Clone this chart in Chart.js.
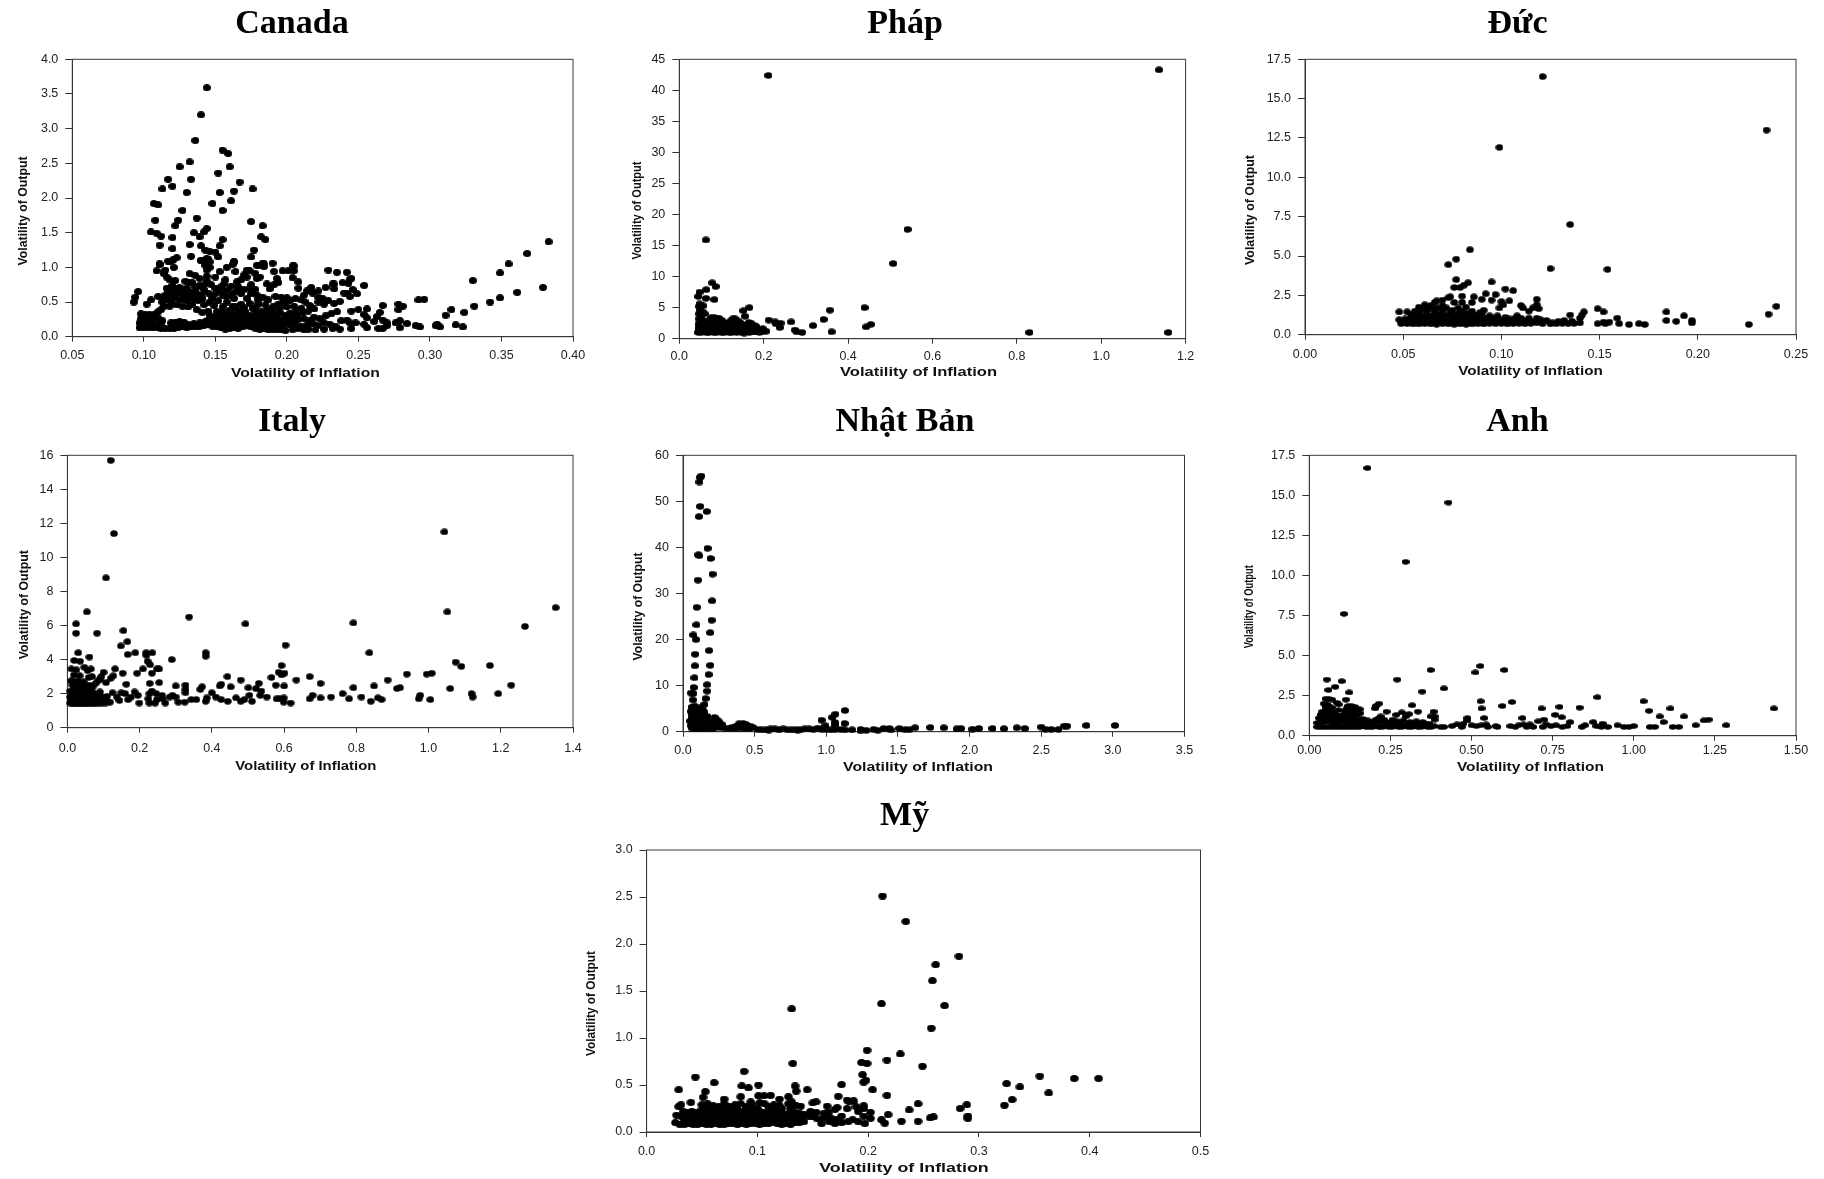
<!DOCTYPE html>
<html><head><meta charset="utf-8">
<script src="https://cdn.jsdelivr.net/npm/chart.js@4"></script>
<style>html,body{margin:0;padding:0;background:#fff;width:1824px;height:1179px;overflow:hidden}canvas{position:absolute}</style>
</head><body>
<script>
const outputLabel = "Volatility of Output";
const inflationLabel = "Volatility of Inflation";
const canadaXTicks=[0.05,0.10,0.15,0.20,0.25,0.30,0.35,0.40];
const canadaYTicks=[0,0.5,1,1.5,2,2.5,3,3.5,4];
const phapXTicks=[0,0.2,0.4,0.6,0.8,1,1.2];
const phapYTicks=[0,5,10,15,20,25,30,35,40,45];
const ducXTicks=[0,0.05,0.10,0.15,0.20,0.25];
const ducYTicks=[0,2.5,5,7.5,10,12.5,15,17.5];
const italyXTicks=[0,0.2,0.4,0.6,0.8,1,1.2,1.4];
const italyYTicks=[0,2,4,6,8,10,12,14,16];
const nhatXTicks=[0,0.5,1,1.5,2,2.5,3,3.5];
const nhatYTicks=[0,10,20,30,40,50,60];
const anhXTicks=[0,0.25,0.5,0.75,1,1.25,1.5];
const anhYTicks=[0,2.5,5,7.5,10,12.5,15,17.5];
const myXTicks=[0,0.1,0.2,0.3,0.4,0.5];
const myYTicks=[0,0.5,1,1.5,2,2.5,3];

const canadaPoints=[[.144,3.59],[.14,3.2],[.136,2.83],[.155,2.69],[.159,2.64],[.132,2.52],[.125,2.45],[.16,2.45],[.152,2.36],[.117,2.27],[.133,2.27],[.167,2.23],[.113,2.13],[.12,2.17],[.176,2.13],[.13,2.08],[.153,2.08],[.163,2.1],[.107,1.92],[.11,1.9],[.148,1.92],[.161,1.96],[.127,1.82],[.155,1.82],[.108,1.68],[.124,1.68],[.137,1.71],[.175,1.66],[.105,1.51],[.109,1.49],[.112,1.45],[.122,1.6],[.12,1.43],[.135,1.5],[.144,1.56],[.142,1.51],[.139,1.44],[.183,1.6],[.182,1.44],[.185,1.4],[.111,1.32],[.12,1.27],[.132,1.33],[.14,1.31],[.155,1.4],[.153,1.31],[.177,1.25],[.143,1.25],[.146,1.23],[.15,1.22],[.133,1.16],[.175,1.15],[.152,1.15],[.123,1.14],[.12,1.1],[.117,1.09],[.14,1.1],[.145,1.12],[.111,1.04],[.144,1.06],[.163,1.08],[.162,1.04],[.183,1.06],[.179,1.03],[.184,1.01],[.19,1.06],[.204,1.02],
[.096,.65],[.094,.57],[.093,.5],[.102,.47],[.105,.53],
[.109,.95],[.111,1.05],[.115,.96],[.118,1.08],[.121,1.12],[.121,1.0],[.114,.91],[.116,.86],[.118,.82],[.122,.81],[.132,.91],[.136,.88],[.129,.8],[.132,.78],[.139,.84],[.144,.87],[.15,.86],[.14,1.1],[.144,1.13],[.146,1.08],[.143,1.03],[.146,1.0],[.144,.96],[.153,.94],[.158,1.0],[.163,1.08],[.164,.94],[.157,.82],[.165,.79],[.172,.96],[.174,.95],[.17,.89],[.178,.91],[.18,1.03],[.184,1.05],[.191,.94],[.197,.95],[.201,.95],[.205,1.02],[.205,.95],[.204,.85],[.208,.79],[.193,.84],[.194,.78],[.191,.75],[.186,.76],[.188,.69],[.175,.75],[.179,.84],[.181,.86],[.172,.86],[.168,.82],[.208,.7],[.217,.71],[.214,.66],[.217,.65],[.222,.66],[.227,.71],[.233,.69],[.229,.96],[.235,.93],[.242,.93],[.244,.83],[.239,.78],[.233,.76],[.243,.77],[.245,.84],[.246,.68],[.242,.63],[.24,.63],[.244,.58],[.249,.62],[.254,.74],[.232,.76],
[.245,.37],[.25,.39],[.256,.4],[.254,.32],[.256,.27],[.267,.45],[.265,.35],[.263,.29],[.261,.22],[.254,.18],[.248,.2],[.256,.13],[.245,.12],[.242,.24],[.244,.2],[.264,.12],[.267,.12],[.267,.24],[.27,.2],[.27,.16],[.276,.2],[.279,.23],[.279,.13],[.284,.19],[.278,.39],[.278,.47],[.281,.44],[.292,.53],[.296,.54],[.29,.16],[.293,.14],[.304,.16],[.305,.18],[.307,.14],[.311,.31],[.315,.39],[.318,.17],[.323,.14],[.324,.35],[.331,.44],[.33,.81],[.342,.5],[.349,.92],[.349,.56],[.355,1.05],[.361,.64],[.368,1.2],[.379,.71],[.383,1.37],
[.097,.13],[.1,.13],[.103,.13],[.106,.13],[.109,.13],[.112,.12],[.097,.2],[.1,.19],[.103,.18],[.106,.18],[.109,.17],[.112,.18],[.098,.26],[.101,.26],[.104,.26],[.107,.26],[.11,.27],[.098,.33],[.101,.32],[.104,.32],[.107,.32],[.113,.23],[.11,.36],[.112,.39],[.114,.44],[.113,.5],[.116,.53],[.118,.58],[.115,.6],[.113,.57],[.11,.58],[.12,.62],[.117,.66],[.122,.69],[.125,.71],[.128,.66],[.13,.7],[.126,.62],[.119,.5],[.123,.46],[.127,.44],[.131,.43],[.134,.47],[.13,.52],[.135,.55],[.133,.64],[.137,.62],[.136,.72],[.139,.74],[.142,.68],[.14,.6],[.134,.78],[.144,.8],[.147,.75],[.15,.7],[.153,.66],[.145,.63],[.148,.56],[.141,.55],[.137,.39],[.141,.35],[.145,.37],[.149,.45],[.152,.52],[.155,.6],[.158,.67],[.161,.73],[.156,.76],[.165,.66],[.168,.62],[.163,.55],[.158,.5],[.155,.43],[.151,.36],[.156,.32],[.16,.38],[.164,.43],[.168,.47],[.172,.55],[.175,.62],[.179,.6],[.183,.57],[.187,.53],[.18,.47],[.176,.41],[.171,.36],[.166,.31],[.161,.27],[.155,.25],[.15,.28],[.145,.24],
[.115,.12],[.118,.12],[.121,.12],[.124,.13],[.127,.14],[.13,.13],[.133,.14],[.136,.14],[.139,.15],[.142,.16],[.145,.17],[.148,.15],[.151,.14],[.154,.13],[.157,.11],[.16,.12],[.163,.13],[.166,.12],[.169,.14],[.172,.16],[.175,.14],[.178,.12],[.181,.11],[.184,.12],[.187,.1],[.19,.1],[.193,.11],[.196,.1],[.199,.09],[.204,.1],[.208,.12],[.212,.1],[.215,.11],[.22,.1],[.226,.11],[.232,.12],[.237,.11],[.119,.2],[.122,.21],[.125,.22],[.128,.21],[.131,.18],[.135,.19],[.139,.2],[.143,.22],[.147,.23],[.152,.2],[.156,.19],[.16,.2],[.164,.21],[.168,.23],[.172,.22],[.176,.2],[.18,.18],[.184,.18],[.188,.16],[.192,.15],[.197,.16],[.202,.17],[.206,.18],[.21,.15],[.214,.17],[.218,.19],[.222,.16],[.226,.2],[.23,.18],[.234,.15],[.238,.23],
[.158,.28],[.162,.32],[.166,.26],[.17,.28],[.174,.3],[.178,.33],[.182,.36],[.186,.39],[.19,.43],[.194,.47],[.198,.5],[.202,.52],[.206,.55],[.21,.53],[.213,.5],[.216,.45],[.219,.4],[.222,.5],[.225,.55],[.229,.52],[.233,.48],[.237,.51],[.177,.25],[.182,.26],[.187,.28],[.191,.31],[.195,.35],[.199,.3],[.203,.27],[.207,.3],[.211,.35],[.215,.37],[.219,.28],[.223,.26],[.227,.3],[.231,.33],[.235,.36],[.191,.22],[.195,.23],[.2,.22],[.204,.24],[.208,.25],[.212,.26],[.216,.23],[.19,.38],[.195,.42],[.2,.43],[.205,.44],[.21,.41],[.185,.46],[.18,.53],[.2,.56],[.196,.57],[.192,.58],[.212,.6],[.218,.63],[.222,.57],[.226,.47],
[.116,.7],[.12,.74],[.124,.64],[.128,.58],[.132,.6],[.136,.66],[.14,.72],[.143,.76],[.138,.52],[.142,.46],[.146,.5],[.15,.62],[.154,.72],[.158,.58],[.162,.62],[.166,.72],[.17,.68],[.174,.7],[.178,.68],[.146,.31],[.15,.2],[.154,.3],[.158,.35],[.162,.44],[.166,.38],[.17,.42],[.174,.48],[.178,.4],[.182,.3],[.186,.34],[.19,.27],[.194,.18],[.198,.24],[.202,.34],[.206,.36],[.157,.16],[.161,.16],[.165,.16],[.169,.18],[.173,.19],[.177,.16],[.181,.15],[.185,.22],[.189,.2],[.193,.28],[.155,.35],[.16,.33],[.174,.25],[.168,.34],[.179,.22],[.118,.44],[.122,.56],[.126,.53],[.13,.6],[.134,.56]];

const phapPoints=[[.211,42.4],[1.137,43.3],[.063,15.9],[.541,17.6],[.507,12.1],[.83,1.0],[1.159,1.0],[.078,9.0],[.086,8.4],[.064,7.9],[.048,7.5],[.045,6.8],[.063,6.5],[.083,6.3],[.048,5.6],[.047,5.2],[.057,5.3],[.166,5.0],[.152,4.5],[.156,3.6],[.357,4.6],[.439,5.0],[.212,3.0],[.227,2.7],[.24,2.5],[.229,2.4],[.238,1.8],[.265,2.7],[.342,3.1],[.317,2.1],[.274,1.4],[.278,1.1],[.291,1.0],[.361,1.1],[.443,1.9],[.454,2.3],
[.05,4.6],[.056,4.3],[.06,4.0],[.052,3.6],[.047,3.2],[.055,3.0],[.062,2.7],[.046,2.4],[.05,2.0],[.046,1.5],[.045,1.0],[.052,1.0],[.058,1.1],[.064,1.0],[.07,1.0],[.076,1.1],[.082,1.0],[.088,1.0],[.094,1.1],[.1,1.0],[.106,1.0],[.112,1.1],[.118,1.0],[.124,1.0],[.13,1.1],[.136,1.0],[.142,1.1],[.148,1.0],[.154,.9],[.16,1.1],[.166,1.0],[.172,1.1],[.178,1.1],[.184,1.1],[.19,1.0],[.196,1.1],[.206,1.2],
[.054,1.8],[.06,1.7],[.066,1.9],[.072,1.7],[.078,1.8],[.084,1.9],[.09,1.7],[.096,1.8],[.102,1.9],[.108,1.7],[.114,1.6],[.12,1.8],[.126,1.7],[.132,1.8],[.138,1.6],[.144,1.7],[.15,1.5],[.156,1.6],[.162,1.7],[.168,1.6],[.174,1.7],[.18,1.5],[.186,1.4],[.192,1.5],[.198,1.6],
[.066,2.7],[.07,2.9],[.076,2.8],[.082,3.1],[.088,3.3],[.094,3.3],[.1,3.0],[.105,2.7],[.11,2.5],[.116,2.4],[.122,2.9],[.127,3.2],[.132,3.2],[.138,2.9],[.144,2.6],[.15,2.3],[.157,2.1],[.165,2.6],[.17,2.5],[.176,2.2],[.182,2.0],[.076,3.4],[.083,3.4],[.09,2.5],[.098,2.4],[.128,2.5],[.135,2.3],[.06,2.2],[.067,2.2],[.075,2.2],[.082,2.4],[.104,2.2],[.112,2.1],[.12,2.2],[.142,2.1],[.15,1.9],[.047,4.0],[.052,2.6],[.046,1.9],
[.05,1.4],[.056,1.4],[.063,1.4],[.07,1.35],[.077,1.4],[.084,1.45],[.091,1.35],[.098,1.4],[.105,1.35],[.112,1.4],[.119,1.35],[.126,1.4],[.133,1.35],[.14,1.3],[.147,1.35],[.154,1.3],[.161,1.35],[.168,1.3],[.175,1.35],[.053,2.4],[.06,2.5],[.07,2.5],[.08,2.7],[.09,2.9],[.096,2.7],[.125,2.2],[.132,2.6],[.139,2.5],[.16,1.95],[.17,2.0]];

const ducPoints=[[.121,16.4],[.235,13.0],[.099,11.9],[.135,7.0],[.084,5.4],[.077,4.8],[.073,4.45],[.125,4.2],[.154,4.15],[.077,3.5],[.076,3.0],[.079,3.0],[.081,3.15],[.083,3.3],[.095,3.35],[.102,2.9],[.106,2.8],[.092,2.6],[.097,2.55],[.08,2.45],[.086,2.4],[.074,2.4],[.073,2.35],[.118,2.25],[.104,2.15],[.1,2.1],[.095,2.2],[.09,2.25],[.07,2.2],[.067,2.15],[.066,2.05],[.076,2.05],[.08,2.05],[.085,2.05],[.101,1.9],[.11,1.85],[.111,1.7],[.118,1.9],[.119,1.65],[.116,1.7],[.114,1.5],[.099,1.7],[.091,1.55],[.149,1.65],[.152,1.45],[.142,1.45],[.141,1.25],[.14,1.05],[.135,1.25],[.159,1.05],[.184,1.45],[.193,1.2],[.184,.9],[.189,.85],[.197,.9],[.197,.75],[.226,.65],[.236,1.3],[.24,1.8],[.165,.65],[.17,.7],[.173,.65],[.16,.7],[.155,.8],[.152,.8],[.149,.7],[.153,.7],
[.048,1.45],[.052,1.45],[.056,1.5],[.058,1.75],[.061,1.9],[.064,1.85],[.067,1.7],[.07,1.85],[.072,1.7],[.075,1.55],[.078,1.7],[.082,1.75],[.058,1.35],[.062,1.5],[.066,1.4],[.07,1.45],[.074,1.3],[.078,1.35],[.083,1.35],[.087,1.25],[.09,1.3],[.094,1.2],[.098,1.2],[.102,1.1],[.108,1.2],
[.048,.95],[.051,1.0],[.054,1.1],[.057,1.05],[.06,1.15],[.063,1.1],[.066,1.05],[.069,1.1],[.072,1.0],[.075,1.05],[.078,1.0],[.081,1.1],[.084,1.0],[.087,.95],[.09,.95],[.093,.95],[.096,.9],[.099,.95],[.102,.95],[.105,.9],[.108,.85],[.111,.9],[.114,.9],[.117,.85],[.12,.95],[.123,.9],[.126,.75],[.129,.85],[.132,.9],[.136,.85],
[.049,.7],[.052,.7],[.055,.68],[.058,.68],[.061,.7],[.064,.68],[.067,.66],[.07,.7],[.073,.68],[.076,.66],[.079,.68],[.082,.66],[.085,.68],[.088,.7],[.091,.68],[.094,.72],[.097,.7],[.1,.72],[.103,.68],[.106,.7],[.109,.72],[.112,.7],[.115,.72],[.118,.75],[.121,.7],[.125,.68],[.128,.7],[.131,.72],[.134,.7],[.137,.72],[.14,.75],[.05,.82],[.06,.82],[.07,.85],[.08,.85],[.09,.8],[.1,.8],[.11,.78],
[.053,.88],[.056,.88],[.059,.95],[.062,.92],[.065,.88],[.068,.9],[.071,.85],[.074,.9],[.077,.88],[.08,.95],[.083,.85],[.086,.85],[.089,.88],[.092,.84],[.095,.82],[.098,.85],[.056,1.25],[.059,1.2],[.062,1.25],[.065,1.22],[.068,1.25],[.071,1.2],[.074,1.15],[.077,1.2],[.08,1.25],[.083,1.15],[.086,1.1],[.089,1.1],[.092,1.05],[.095,1.05],[.098,1.05],[.054,1.3],[.06,1.6],[.063,1.65],[.066,1.55],[.07,1.6],[.074,1.45],[.08,1.5],[.085,1.5],[.089,1.4],[.104,1.0],[.107,1.05],[.11,1.05],[.114,1.05],[.118,1.05]];

const italyPoints=[[.12,15.7],[.129,11.4],[.107,8.8],[1.044,11.5],[1.052,6.8],[1.352,7.05],[1.267,5.95],[.792,6.15],[.493,6.1],[.337,6.5],[.054,6.8],[.024,6.1],[.024,5.55],[.082,5.55],[.155,5.7],[.166,5.05],[.148,4.8],[.604,4.85],[.03,4.4],[.061,4.15],[.167,4.3],[.188,4.4],[.218,4.4],[.235,4.4],[.219,4.25],[.383,4.4],[.383,4.2],[.836,4.4],[.289,4.0],[.222,3.9],[.229,3.7],[.019,3.95],[.035,3.9],[.593,3.65],[1.075,3.85],[1.091,3.6],[1.17,3.65],[.011,3.45],[.025,3.4],[.047,3.55],[.065,3.45],[.056,3.35],[.132,3.45],[.153,3.2],[.209,3.45],[.248,3.45],[.254,3.45],[.234,3.2],[.193,3.2],[.1,3.25],[.094,3.0],[.091,2.85],[.127,3.05],[.12,2.9],[.068,3.0],[.059,2.95],[.018,3.1],[.034,3.05],[.01,2.75],[.084,2.75],[.078,2.6],[.107,2.65],[.163,2.55],[.228,2.6],[.254,2.65],
[.585,3.25],[.601,3.2],[.593,3.1],[.565,2.95],[.443,3.0],[.48,2.8],[.634,2.8],[.671,3.0],[.701,2.6],[.887,2.8],[.94,3.15],[.995,3.15],[1.009,3.2],[.53,2.6],[.577,2.5],[.6,2.45],[.426,2.55],[.422,2.45],[.452,2.4],[.3,2.45],[.327,2.5],[.501,2.35],[.522,2.3],[.537,2.15],[.327,2.25],[.327,2.05],[.373,2.4],[.368,2.25],[.4,2.05],[.792,2.35],[.849,2.45],[.913,2.3],[.921,2.35],[1.06,2.3],[1.229,2.5],[1.119,2.0],[1.122,1.8],[1.193,2.0],[.762,2.0],[.73,1.8],[.679,1.9],[.701,1.75],[.671,1.7],[.78,1.7],[.814,1.8],[.84,1.55],[.86,1.75],[.87,1.65],[.977,1.9],[.973,1.7],[1.005,1.65],
[.504,1.9],[.534,1.9],[.552,1.8],[.467,1.75],[.49,1.65],[.48,1.55],[.511,1.55],[.579,1.7],[.599,1.75],[.587,1.7],[.599,1.5],[.618,1.45],[.444,1.55],[.426,1.65],[.411,1.8],[.386,1.75],[.383,1.55],[.357,1.65],[.343,1.65],[.325,1.5],[.307,1.5],[.3,1.8],[.291,1.9],[.283,1.8],[.271,1.45],[.262,1.9],[.264,1.7],[.243,1.45],[.248,1.65],[.227,1.45],[.224,1.7],[.227,2.0],[.234,2.15],[.246,2.0],[.199,1.45],[.195,1.9],[.186,2.1],[.176,1.8],[.168,1.65],[.149,2.05],[.16,2.0],[.137,1.8],[.144,1.6],
[.008,1.45],[.016,1.4],[.024,1.4],[.032,1.4],[.04,1.4],[.048,1.4],[.056,1.4],[.064,1.45],[.072,1.4],[.08,1.45],[.088,1.45],[.096,1.45],[.106,1.45],[.118,1.5],[.008,1.8],[.016,1.8],[.024,1.75],[.032,1.85],[.04,1.75],[.048,1.8],[.056,1.75],[.064,1.8],[.072,1.75],[.08,1.85],[.09,1.9],[.1,1.75],[.11,1.85],[.125,2.05],[.09,2.1],[.008,2.15],[.016,2.2],[.024,2.15],[.032,2.2],[.04,2.1],[.048,2.15],[.056,2.2],[.064,2.15],[.072,2.05],[.014,2.5],[.024,2.55],[.034,2.45],[.044,2.4],[.054,2.45],[.062,2.5],[.07,2.4],
[.01,1.6],[.02,1.6],[.03,1.6],[.04,1.6],[.05,1.6],[.06,1.6],[.07,1.6],[.08,1.65],[.012,2.0],[.022,2.0],[.032,2.0],[.042,1.95],[.052,2.0],[.062,1.95],[.02,2.35],[.03,2.35],[.04,2.3],[.05,2.3],[.06,2.35],[.016,2.75],[.03,2.75],[.045,2.7],[.098,1.6],[.11,1.55]];

const nhatPoints=[[.128,55.5],[.118,55.2],[.115,54.2],[.12,48.9],[.166,47.8],[.112,46.7],[.171,39.8],[.107,38.4],[.113,38.2],[.192,37.6],[.206,34.2],[.104,32.9],[.203,28.4],[.096,27],[.2,24.2],[.094,23.2],[.072,21],[.091,20],[.19,21.5],[.182,17.6],[.085,16.8],[.083,14.3],[.19,14.4],[.179,12.4],[.08,11.7],[.168,10.2],[.075,9.6],[.168,8.8],[.056,8.4],[.072,8.3],[.158,7.2],[.069,6.9],[.15,5.9],
[.967,2.5],[1.042,3.1],[1.063,3.8],[1.13,4.6],[1.128,1.8],[1.06,2.0],[1.063,1.4],[.994,1.3],[1.24,.5],[1.33,.5],[1.62,.85],[1.726,.9],[1.82,.85],[1.91,.6],[1.94,.7],[2.02,.55],[2.065,.7],[2.16,.7],[2.24,.65],[2.33,.85],[2.385,.7],[2.5,1.0],[2.53,.5],[2.57,.5],[2.62,.5],[2.66,1.2],[2.68,1.2],[2.815,1.35],[3.015,1.35],[1.51,.7],[1.55,.45],[1.58,.45],[1.4,.7],[1.44,.7],[1.45,.4],[1.18,.4],[1.1,.5],[1.28,.3],[1.36,.3],[1.24,.2],
[.06,5.3],[.07,5.0],[.08,5.6],[.09,4.6],[.1,4.8],[.11,5.2],[.12,4.9],[.13,5.0],[.14,4.6],[.15,4.2],[.055,4.4],[.065,3.9],[.06,3.2],[.05,2.3],[.055,1.3],[.06,.8],[.09,3.4],[.11,3.6],[.13,3.4],[.15,3.1],[.17,3.3],[.08,2.4],[.1,2.5],[.12,2.3],[.14,2.2],[.16,2.1],[.18,2.3],[.07,1.2],[.09,1.3],[.11,1.4],[.13,1.2],[.15,1.3],[.17,1.2],[.19,1.5],[.21,1.7],[.22,3.1],[.235,2.6],[.25,2.2],[.27,1.6],[.24,1.2],[.08,.7],[.1,.6],[.12,.7],[.14,.6],[.16,.7],[.18,.7],[.2,.7],[.22,.8],[.26,.9],[.29,.8],[.32,.7],[.34,.9],[.37,1.2],[.39,1.7],[.42,1.8],[.44,1.6],[.47,1.2],[.49,.9],[.4,.8],[.43,.7],[.36,.6],[.46,.6],[.52,.5],[.55,.4],[.58,.4],[.61,.6],[.64,.6],[.67,.4],[.7,.6],[.73,.4],[.76,.4],[.79,.4],[.82,.4],[.85,.6],[.88,.6],[.91,.5],[.94,.8],[.97,.5],[1.0,.5],[1.03,.4],[1.06,.5],[1.13,.4],[.6,.35],[.8,.35]];

const anhPoints=[[.179,16.7],[.429,14.55],[.297,10.85],[.107,7.6],[.527,4.35],[.512,3.95],[.374,4.1],[.601,4.1],[.054,3.5],[.1,3.4],[.271,3.5],[.059,2.85],[.08,3.05],[.123,2.7],[.415,2.95],[.348,2.75],[.888,2.4],[.528,2.15],[.625,2.1],[.595,1.85],[.531,1.7],[1.03,2.15],[1.047,1.55],[1.113,1.7],[.716,1.7],[.771,1.8],[.833,1.75],[1.432,1.7],[1.08,1.2],[1.155,1.2],[.758,1.3],[.778,1.15],[.657,1.1],[.723,1.0],[.706,.9],[.804,.85],[.875,.85],[.904,.75],[1.092,.85],[1.216,.95],[1.231,1.0],[1.191,.65],[1.285,.65],[1.12,.55],[1.139,.55],[.539,1.1],[.487,1.1],[.487,.95],[.317,1.9],[.335,1.5],[.238,1.5],[.215,2.0],[.205,1.85],[.203,1.7],[.113,2.25],[.285,1.45],[.268,1.3],[.307,1.35],[.297,1.2],[.383,1.5],[.374,1.2],[.386,1.2],[.386,1.0],[.257,1.0],[.22,1.2],
[.05,2.3],[.06,2.3],[.07,2.25],[.045,2.0],[.055,1.95],[.085,2.05],[.09,1.95],[.09,1.6],[.12,1.85],[.13,1.85],[.14,1.8],[.155,1.65],[.157,1.4],[.165,1.05],[.04,1.5],[.05,1.6],[.06,1.65],[.07,1.5],[.08,1.35],[.11,1.55],[.12,1.5],[.13,1.45],[.03,1.1],[.04,1.15],[.05,1.2],[.06,1.25],[.07,1.15],[.08,1.05],[.09,1.0],[.1,1.1],[.11,1.2],[.12,1.15],[.13,1.1],[.14,1.25],[.15,1.0],
[.025,.8],[.035,.85],[.045,.85],[.055,.9],[.065,.85],[.075,.8],[.085,.8],[.095,.85],[.105,.85],[.115,.85],[.125,.8],[.135,.8],[.145,.75],[.155,.8],[.175,.8],[.19,.85],[.205,1.0],[.215,1.1],[.23,1.0],[.25,.85],[.27,.9],[.29,.95],[.31,.85],[.33,.9],[.35,.85],[.37,.75],
[.025,.55],[.035,.55],[.045,.55],[.055,.55],[.065,.55],[.075,.55],[.085,.55],[.095,.55],[.105,.55],[.115,.55],[.125,.55],[.135,.55],[.145,.55],[.155,.55],[.165,.6],[.175,.55],[.185,.55],[.195,.55],[.205,.6],[.215,.55],[.225,.55],[.235,.6],[.245,.55],[.255,.55],[.265,.6],[.275,.55],[.285,.55],[.295,.6],[.305,.55],[.315,.55],[.325,.6],[.335,.55],[.345,.55],[.355,.6],[.365,.55],[.375,.55],[.385,.6],[.405,.55],[.415,.55],[.44,.6],[.455,.7],[.47,.55],[.475,.75],[.5,.65],[.515,.6],[.53,.65],[.545,.7],[.55,.55],[.575,.6],[.58,.55],[.62,.6],[.635,.55],[.645,.65],[.66,.7],[.67,.55],[.68,.7],[.69,.55],[.72,.55],[.73,.7],[.745,.6],[.76,.65],[.78,.55],[.795,.6],[.84,.55],[.85,.65],[.885,.6],[.9,.55],[.92,.55],[.95,.65],[.97,.55],[.985,.55],[1.0,.6],[1.05,.55],[1.065,.55],
[.04,.95],[.05,1.0],[.06,1.05],[.07,1.0],[.08,.95],[.09,.9],[.1,.95],[.11,1.0],[.12,.95],[.13,.95],[.14,1.0],[.035,1.3],[.045,1.35],[.055,1.4],[.065,1.35],[.075,1.25],[.085,1.2],[.095,1.2],[.105,1.3],[.115,1.35],[.125,1.3],[.135,1.4],[.145,1.45],[.05,1.8],[.06,1.85],[.07,1.75],[.115,1.7],[.125,1.65],[.135,1.6],[.15,1.3],[.16,.9],[.18,.95],[.2,.8],[.22,.85],[.24,.8],[.26,.7],[.28,.75],[.3,.7],[.32,.72],[.34,.72],[.36,.7]];

const myPoints=[[.213,2.51],[.234,2.24],[.282,1.87],[.261,1.78],[.258,1.61],[.212,1.365],[.269,1.345],[.131,1.31],[.257,1.105],[.199,.87],[.229,.83],[.217,.765],[.194,.74],[.199,.73],[.132,.73],[.249,.7],[.088,.645],[.195,.61],[.044,.585],[.198,.55],[.196,.53],[.061,.525],[.101,.5],[.086,.49],[.092,.47],[.134,.49],[.176,.505],[.029,.45],[.135,.435],[.145,.45],[.204,.45],[.325,.515],[.337,.48],[.355,.595],[.386,.57],[.408,.57],[.363,.415],[.33,.345],[.323,.285],[.289,.29],[.283,.25],[.29,.17],[.29,.145],[.259,.16],[.256,.15],[.245,.3],[.237,.235],[.245,.115],[.23,.115],[.218,.185],[.212,.13],[.215,.095],[.217,.39],
[.173,.38],[.181,.34],[.187,.33],[.183,.32],[.189,.27],[.196,.28],[.196,.25],[.191,.22],[.202,.21],[.196,.17],[.202,.145],[.197,.09],[.191,.11],[.181,.25],[.176,.17],[.17,.24],[.172,.26],[.163,.275],[.153,.32],[.15,.31],[.139,.275],[.128,.375],[.112,.39],[.106,.385],[.101,.385],[.128,.3],[.131,.32],[.12,.35],[.085,.375],[.07,.35],[.051,.37],[.053,.43],[.04,.315],[.031,.29],[.029,.27],[.094,.32],[.106,.305],[.102,.31],
[.026,.1],[.03,.08],[.034,.08],[.038,.09],[.042,.08],[.046,.08],[.05,.09],[.054,.08],[.058,.08],[.062,.09],[.066,.08],[.07,.08],[.074,.09],[.078,.09],[.082,.08],[.086,.09],[.09,.08],[.094,.09],[.098,.09],[.102,.08],[.106,.09],[.11,.09],[.114,.1],[.118,.09],[.122,.08],[.126,.09],[.13,.08],[.134,.1],[.138,.1],[.142,.11],[.158,.09],[.165,.11],[.17,.09],[.176,.1],[.182,.11],[.186,.13],
[.027,.18],[.032,.16],[.036,.14],[.04,.15],[.044,.14],[.048,.15],[.052,.14],[.056,.15],[.06,.14],[.064,.15],[.068,.14],[.072,.15],[.076,.15],[.08,.14],[.084,.15],[.088,.14],[.092,.15],[.096,.15],[.1,.14],[.104,.15],[.108,.14],[.112,.15],[.116,.15],[.12,.14],[.124,.15],[.128,.14],[.132,.15],[.136,.14],[.14,.15],[.146,.17],[.15,.16],[.154,.14],[.16,.15],[.166,.15],[.171,.13],
[.033,.22],[.037,.21],[.041,.22],[.046,.21],[.05,.24],[.054,.22],[.058,.21],[.062,.25],[.066,.22],[.07,.23],[.074,.21],[.078,.22],[.082,.24],[.086,.22],[.09,.21],[.094,.23],[.098,.2],[.102,.22],[.106,.21],[.11,.19],[.114,.22],[.118,.24],[.122,.2],[.126,.19],[.13,.22],[.134,.21],[.138,.2],[.142,.19],[.148,.22],[.153,.21],[.16,.2],[.164,.21],
[.05,.29],[.055,.3],[.06,.28],[.065,.27],[.07,.3],[.075,.27],[.08,.29],[.085,.3],[.09,.27],[.095,.29],[.11,.27],[.115,.29],[.12,.28],[.135,.28],
[.034,.12],[.039,.115],[.044,.11],[.049,.12],[.054,.115],[.059,.11],[.064,.12],[.069,.115],[.074,.12],[.079,.115],[.084,.11],[.089,.12],[.094,.115],[.099,.115],[.104,.11],[.109,.12],[.114,.125],[.119,.115],[.124,.12],[.129,.11],[.134,.125],[.139,.125],[.036,.185],[.041,.185],[.046,.18],[.051,.185],[.056,.18],[.061,.185],[.066,.18],[.071,.19],[.076,.185],[.081,.18],[.086,.185],[.091,.18],[.096,.185],[.101,.18],[.106,.175],[.111,.18],[.116,.19],[.121,.175],[.126,.17],[.131,.185],[.136,.175],[.141,.18],[.056,.25],[.068,.26],[.08,.255],[.09,.25],[.1,.25],[.112,.25],[.122,.25],[.13,.255]];

const axes=[
 {id:'canada',title:'Canada',pts:canadaPoints,xt:canadaXTicks,yt:canadaYTicks,xd:2,yd:1,box:[-6,604,0,385],area:[72.3,573,59.3,336.7],tc:292,tp:4,xp:6,xl:[305.4,373.5,149],yl:[23.5,211,109],dot:[8,7]},
 {id:'phap',title:'Pháp',pts:phapPoints,xt:phapXTicks,yt:phapYTicks,xd:1,yd:0,box:[613,1212,0,385],area:[679.3,1185.6,59.3,338.7],tc:905,tp:4,xp:5,xl:[918.5,372.5,157],yl:[637.6,210.5,98],dot:[8,6.5]},
 {id:'duc',title:'Đức',pts:ducPoints,xt:ducXTicks,yt:ducYTicks,xd:2,yd:1,box:[1223,1824,0,385],area:[1305,1796,59.3,334.7],tc:1517.5,tp:4,xp:7,xl:[1530.5,371.5,144.6],yl:[1250,210,110],dot:[7.5,6.5]},
 {id:'italy',title:'Italy',pts:italyPoints,xt:italyXTicks,yt:italyYTicks,xd:1,yd:0,box:[-6,604,399,780],area:[67.4,573,455.3,727.7],tc:292,tp:3,xp:8,xl:[305.8,766.5,141],yl:[24,604.7,109],dot:[7.5,6.5]},
 {id:'nhat',title:'Nhật Bản',pts:nhatPoints,xt:nhatXTicks,yt:nhatYTicks,xd:1,yd:0,box:[613,1212,399,780],area:[683,1184.5,455.3,731.7],tc:905,tp:3,xp:6,xl:[918,767.5,150],yl:[638.4,606.5,108],dot:[8,6.5]},
 {id:'anh',title:'Anh',pts:anhPoints,xt:anhXTicks,yt:anhYTicks,xd:2,yd:1,box:[1223,1824,399,780],area:[1309.3,1796,455.3,735.7],tc:1517.5,tp:3,xp:2,xl:[1530.4,767.5,147],yl:[1249.6,606.7,83],dot:[8,5.5]},
 {id:'my',title:'Mỹ',pts:myPoints,xt:myXTicks,yt:myYTicks,xd:1,yd:1,box:[585,1224,793,1178],area:[646.6,1200.5,850,1132],tc:904.6,tp:3,xp:7,xl:[904,1168.5,169.6],yl:[591.5,1003.5,105],dot:[8.5,7]}
];

function makeDot(w,h){
  const s=document.createElement('canvas');s.width=Math.ceil(w);s.height=Math.ceil(h);
  const q=s.getContext('2d');q.fillStyle='#000';q.beginPath();q.ellipse(s.width/2,s.height/2,w/2,h/2,0,0,Math.PI*2);q.fill();
  return s;
}
const framePlugin={id:'plotFrame',beforeDatasetsDraw(ch){
  const a=ch.chartArea,g=ch.ctx;g.save();g.strokeStyle='#3a3a3a';g.lineWidth=1;
  g.strokeRect(a.left,a.top,a.right-a.left,a.bottom-a.top);g.restore();}};
const axisTextPlugin={id:'axisText',afterDraw(ch,args,o){
  const g=ch.ctx;
  const draw=(t,cx,cy,len,rot,size)=>{g.save();g.translate(cx-o.ox,cy-o.oy);if(rot)g.rotate(-Math.PI/2);
    g.font='bold '+size+'px "Liberation Sans"';g.fillStyle='#111';g.textAlign='center';g.textBaseline='middle';
    g.scale(len/g.measureText(t).width,1);g.fillText(t,0,0);g.restore();};
  draw(ch.options.scales.x.title.text,o.xl[0],o.xl[1],o.xl[2],false,12);
  draw(ch.options.scales.y.title.text,o.yl[0],o.yl[1],o.yl[2],true,13);
}};
axes.forEach(a=>{
  const cv=document.createElement('canvas');
  const [cl,cr,ct,cb]=a.box,[l,r,t,b]=a.area;
  const padL=2*a.tc-cl-r;
  cv.width=cr-cl;cv.height=cb-ct;cv.style.left=cl+'px';cv.style.top=ct+'px';
  document.body.appendChild(cv);
  const tickFont={family:'"Liberation Sans"',size:12.5};
  const gridX={display:true,drawOnChartArea:false,drawTicks:true,tickLength:5,tickColor:'#333',color:'#333'};
  const gridY={display:true,drawOnChartArea:false,drawTicks:true,tickLength:7,tickColor:'#333',color:'#333'};
  new Chart(cv,{type:'scatter',
    data:{datasets:[{label:a.title,data:a.pts.map(p=>({x:p[0],y:p[1]})),pointStyle:makeDot(a.dot[0],a.dot[1]),pointRadius:3,backgroundColor:'#000',borderColor:'#000',clip:false}]},
    options:{responsive:false,animation:false,devicePixelRatio:1,
      layout:{padding:{left:padL,top:0,right:cr-r,bottom:0}},
      plugins:{legend:{display:false},tooltip:{enabled:false},
        title:{display:true,text:a.title,color:'#000',font:{family:'"Liberation Serif"',size:34,weight:'bold',lineHeight:1.2},padding:{top:a.tp,bottom:t-ct-a.tp-40.8}},
        axisText:{ox:cl,oy:ct,xl:a.xl,yl:a.yl}},
      scales:{
        x:{type:'linear',min:a.xt[0],max:a.xt[a.xt.length-1],
          title:{display:false,text:inflationLabel},
          grid:gridX,border:{display:true,color:'#333',width:1},
          afterBuildTicks:s=>{s.ticks=a.xt.map(v=>({value:v}));},
          ticks:{autoSkip:false,maxRotation:0,minRotation:0,padding:a.xp,color:'#222',font:tickFont,callback:v=>v.toFixed(a.xd)},
          afterFit:s=>{s.height=cb-b;}},
        y:{type:'linear',min:a.yt[0],max:a.yt[a.yt.length-1],
          title:{display:false,text:outputLabel},
          grid:gridY,border:{display:true,color:'#333',width:1},
          afterBuildTicks:s=>{s.ticks=a.yt.map(v=>({value:v}));},
          ticks:{autoSkip:false,padding:7,color:'#222',font:tickFont,callback:v=>v.toFixed(a.yd)},
          afterFit:s=>{s.width=l-cl-padL;}}
      }},
    plugins:[framePlugin,axisTextPlugin]});
});
</script>
</body></html>
